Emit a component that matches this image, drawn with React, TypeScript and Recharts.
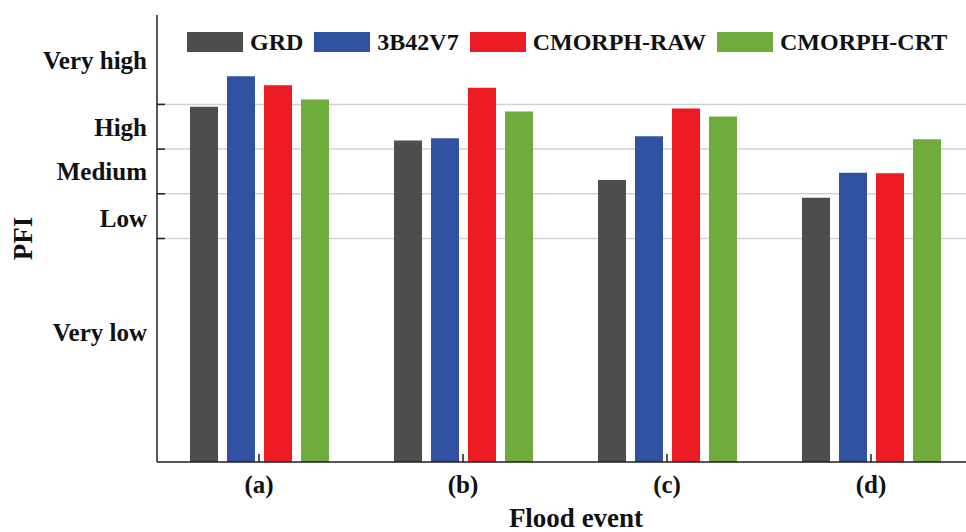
import { BarChart, Bar, XAxis, YAxis, CartesianGrid, Legend, Label } from "recharts";

const CATEGORIES = ["(a)", "(b)", "(c)", "(d)"];
const GRD = [0.795, 0.719, 0.631, 0.591];
const B42V7 = [0.863, 0.724, 0.729, 0.647];
const CMORPH_RAW = [0.843, 0.837, 0.791, 0.646];
const CMORPH_CRT = [0.811, 0.784, 0.773, 0.722];

const GRID_VALUES = [0.5, 0.6, 0.7, 0.8];
const LEVEL_VALUES = [0.29, 0.545, 0.65, 0.75, 0.9];
const LEVEL_LABELS = ["Very low", "Low", "Medium", "High", "Very high"];

const SERIES = [
    { key: "GRD", name: "GRD", color: "#4d4d4d" },
    { key: "B42V7", name: "3B42V7", color: "#3151a3" },
    { key: "RAW", name: "CMORPH-RAW", color: "#ed1c24" },
    { key: "CRT", name: "CMORPH-CRT", color: "#6fab3d" },
];

const data = CATEGORIES.map((name, i) => ({
    name,
    GRD: GRD[i],
    B42V7: B42V7[i],
    RAW: CMORPH_RAW[i],
    CRT: CMORPH_CRT[i],
}));

const FONT = '"Liberation Serif", "Times New Roman", serif';
const AXIS = "#1e1e1e";

function LeftTick({ x, y, payload }: any) {
    const v = payload.value;
    const idx = LEVEL_VALUES.indexOf(v);
    if (idx < 0) {
        return <line x1={x + 10} x2={x + 18} y1={y} y2={y} stroke={AXIS} strokeWidth={1.5} />;
    }
    return (
        <text x={x} y={y} dy="0.355em" textAnchor="end" fontFamily={FONT} fontWeight="bold" fontSize={25} fill="#111">
            {LEVEL_LABELS[idx]}
        </text>
    );
}

function RightTick({ x, y }: any) {
    return <line x1={x - 8} x2={x} y1={y} y2={y} stroke={AXIS} strokeWidth={1.5} />;
}

function TopTick({ x, y }: any) {
    return <line x1={x} x2={x} y1={y} y2={y + 8} stroke={AXIS} strokeWidth={1.5} />;
}

function BottomTick({ x, y, payload }: any) {
    return (
        <g>
            <line x1={x} x2={x} y1={y - 8} y2={y} stroke={AXIS} strokeWidth={1.5} />
            <text x={x} y={y + 31} textAnchor="middle" fontFamily={FONT} fontWeight="bold" fontSize={25} fill="#111">
                {payload.value}
            </text>
        </g>
    );
}

function LegendBox() {
    return (
        <div style={{ display: "flex", alignItems: "center", fontFamily: FONT, fontWeight: "bold", fontSize: 24, lineHeight: "20px", color: "#111" }}>
            {SERIES.map((s) => (
                <div key={s.key} style={{ display: "flex", alignItems: "center", marginRight: 11 }}>
                    <span style={{ display: "inline-block", width: 56, height: 20, background: s.color, marginRight: 7 }} />
                    <span style={{ whiteSpace: "nowrap" }}>{s.name}</span>
                </div>
            ))}
        </div>
    );
}

export default function App() {
    return (
        <div style={{ position: "fixed", left: 0, top: 0, width: 966, height: 532, overflow: "hidden", background: "#fff" }}>
            <BarChart width={980} height={532} data={data} margin={{ top: 15, right: 7, bottom: 0, left: 0 }} barSize={28} barGap={9}>
                <CartesianGrid xAxisId="b" yAxisId="l" vertical={false} horizontalValues={GRID_VALUES} stroke="#d2d2d2" strokeWidth={1.5} />
                <XAxis
                    xAxisId="b"
                    dataKey="name"
                    height={70}
                    tickSize={0}
                    tickMargin={0}
                    tickLine={false}
                    axisLine={{ stroke: AXIS, strokeWidth: 1.5 }}
                    tick={<BottomTick />}
                >
                    <Label
                        content={({ viewBox }: any) => (
                            <text
                                x={viewBox.x + viewBox.width / 2 + 11}
                                y={viewBox.y + 65}
                                textAnchor="middle"
                                fontFamily={FONT}
                                fontWeight="bold"
                                fontSize={27}
                                fill="#111"
                            >
                                Flood event
                            </text>
                        )}
                    />
                </XAxis>
                <XAxis
                    xAxisId="top"
                    dataKey="name"
                    orientation="top"
                    height={0}
                    tickSize={0}
                    tickMargin={0}
                    tickLine={false}
                    axisLine={{ stroke: AXIS, strokeWidth: 1.5 }}
                    tick={<TopTick />}
                />
                <YAxis
                    yAxisId="l"
                    type="number"
                    domain={[0, 1]}
                    ticks={[...LEVEL_VALUES, ...GRID_VALUES].sort((a, b) => a - b)}
                    width={157}
                    tickSize={0}
                    tickMargin={10}
                    tickLine={false}
                    interval={0}
                    axisLine={{ stroke: AXIS, strokeWidth: 1.5 }}
                    tick={<LeftTick />}
                >
                    <Label
                        content={({ viewBox }: any) => {
                            const cx = viewBox.x + 23;
                            const cy = viewBox.y + viewBox.height / 2;
                            return (
                                <text
                                    x={cx}
                                    y={cy}
                                    transform={`rotate(-90 ${cx} ${cy})`}
                                    textAnchor="middle"
                                    dy="0.35em"
                                    fontFamily={FONT}
                                    fontWeight="bold"
                                    fontSize={27}
                                    fill="#111"
                                >
                                    PFI
                                </text>
                            );
                        }}
                    />
                </YAxis>
                <YAxis
                    yAxisId="r"
                    orientation="right"
                    type="number"
                    domain={[0, 1]}
                    ticks={GRID_VALUES}
                    width={0}
                    tickSize={0}
                    tickMargin={0}
                    tickLine={false}
                    interval={0}
                    axisLine={{ stroke: AXIS, strokeWidth: 1.5 }}
                    tick={<RightTick />}
                />
                <Legend
                    layout="horizontal"
                    verticalAlign="middle"
                    align="center"
                    wrapperStyle={{ top: 32, left: 187, width: 780, height: 20 }}
                    content={() => <LegendBox />}
                />
                {SERIES.map((s) => (
                    <Bar key={s.key} xAxisId="b" yAxisId="l" dataKey={s.key} name={s.name} fill={s.color} isAnimationActive={false} />
                ))}
            </BarChart>
        </div>
    );
}
